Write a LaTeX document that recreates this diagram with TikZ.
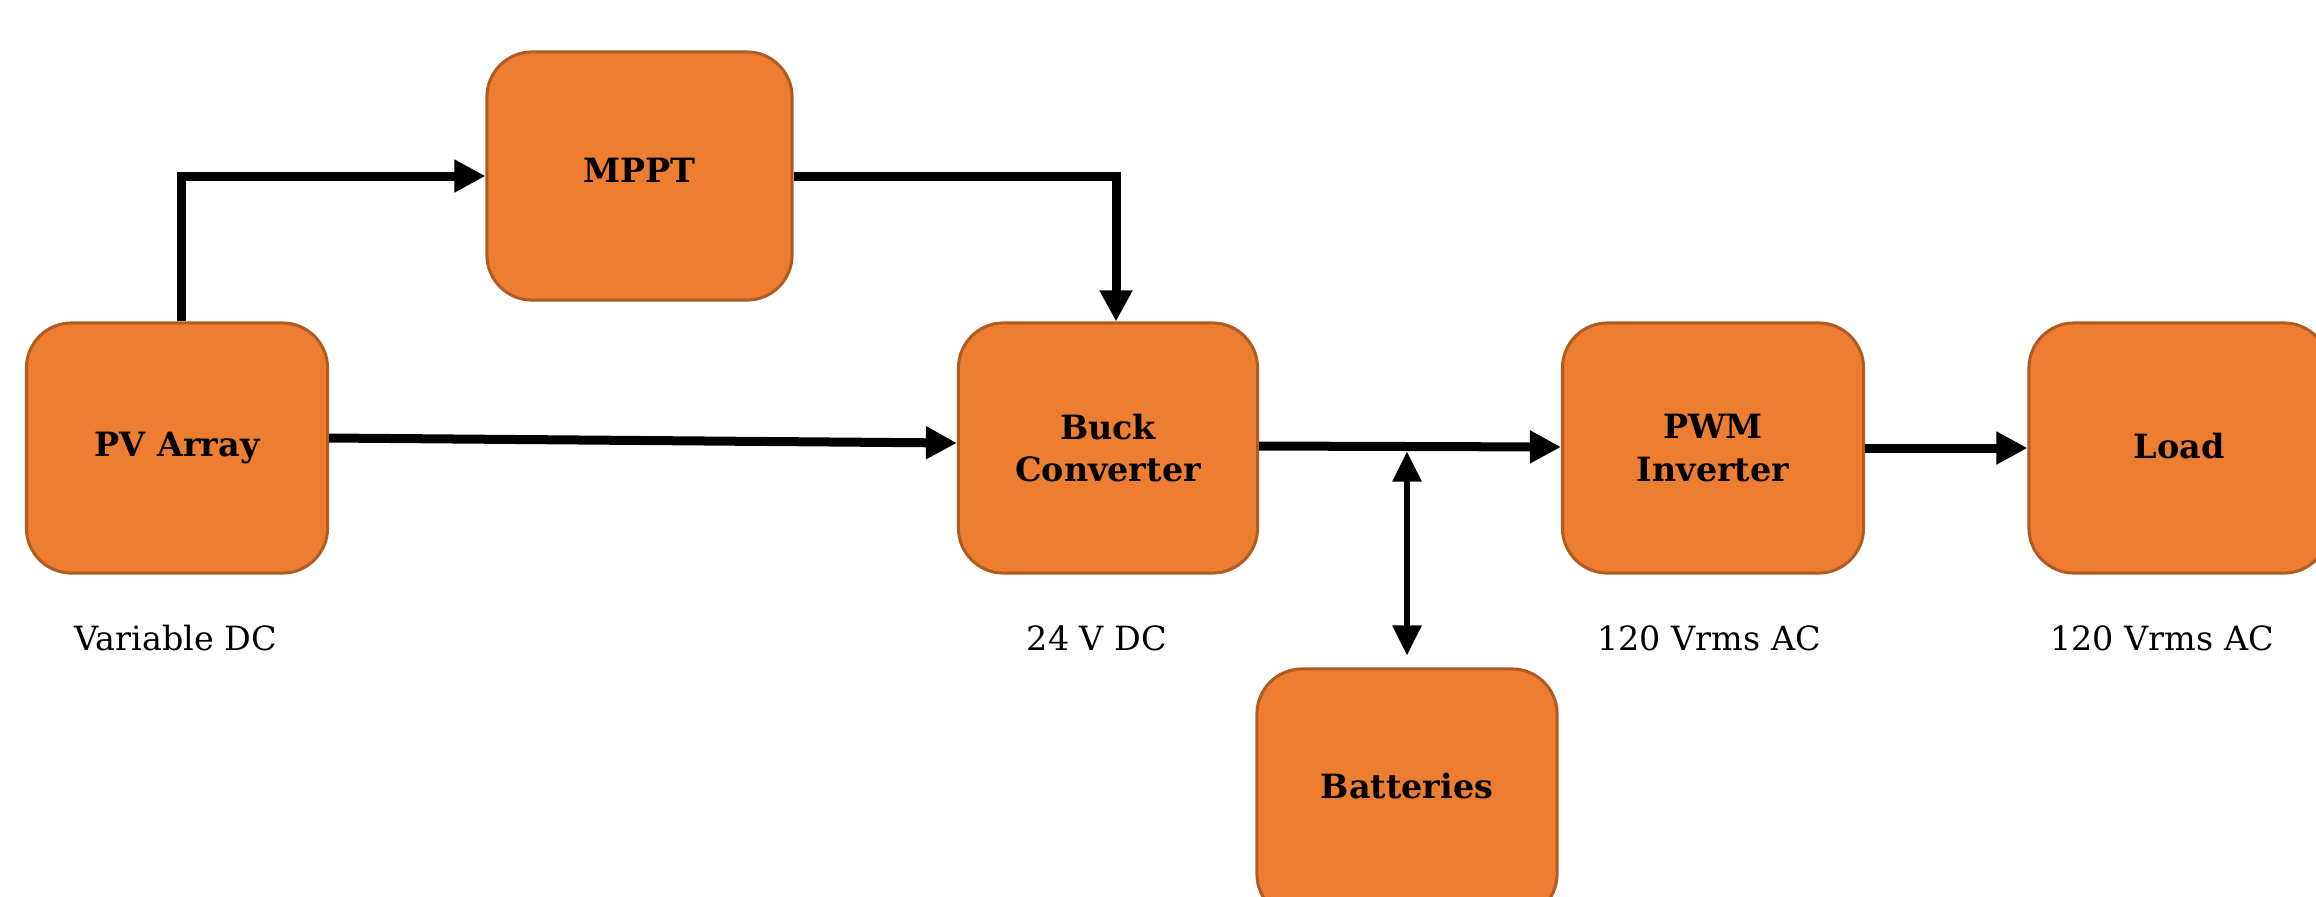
\documentclass[tikz,border=0pt]{standalone}
\usepackage{fontspec}
\setmainfont{DejaVu Serif}
\usetikzlibrary{arrows.meta,calc}
\definecolor{boxfill}{HTML}{ED7D31}
\definecolor{boxline}{HTML}{B05B22}
\begin{document}
\begin{tikzpicture}[x=0.01cm,y=-0.01cm,
  blk/.style={draw=boxline,fill=boxfill,line width=0.03cm,rounded corners=0.45cm,
    minimum width=3cm,minimum height=2.5cm,align=center,inner sep=0pt,
    font=\fontsize{9.5}{12}\selectfont\bfseries},
  conn/.style={line width=0.09cm,-{Triangle[length=0.31cm,width=0.31cm]}},
  dconn/.style={line width=0.06cm,{Triangle[length=0.3cm,width=0.28cm]}-{Triangle[length=0.3cm,width=0.28cm]}},
  lbl/.style={font=\fontsize{9.5}{12}\selectfont}]
\useasboundingbox (0,0) rectangle (2316,896);
\node[blk,minimum width=3.01cm] (pv) at (177,448) {PV Array};
\node[blk,minimum width=3.05cm,minimum height=2.48cm] (mppt) at (639.5,176) {\raisebox{0.12cm}{MPPT}};
\node[blk,minimum width=2.99cm] (buck) at (1108,448) {Buck\\Converter};
\node[blk,minimum width=3.01cm] (pwm) at (1713,448) {PWM\\Inverter};
\node[blk] (load) at (2179,448) {\raisebox{0.04cm}{Load}};
\node[blk] (batt) at (1407,794) {\raisebox{0.16cm}{Batteries}};
\node[lbl] (l1) at (176,638) {Variable DC};
\node[lbl] (l2) at (1097,638) {24 V DC};
\node[lbl] (l3) at (1709,638) {120 Vrms AC};
\node[lbl] (l4) at (2162,638) {120 Vrms AC};
\coordinate (j) at (1407,447);
\draw[conn] ([xshift=0.04cm]pv.north) |- (mppt.west);
\draw[conn] (mppt.east) -| ([xshift=0.08cm]buck.north);
\draw[conn] ([yshift=0.1cm]pv.east) -- ([yshift=0.05cm]buck.west);
\draw[conn] ([yshift=0.02cm]buck.east) -- ([yshift=0.01cm]pwm.west);
\draw[conn] (pwm.east) -- (load.west);
\draw[dconn] ([yshift=0.12cm]batt.north) -- ([yshift=-0.045cm]j);
\end{tikzpicture}
\end{document}
